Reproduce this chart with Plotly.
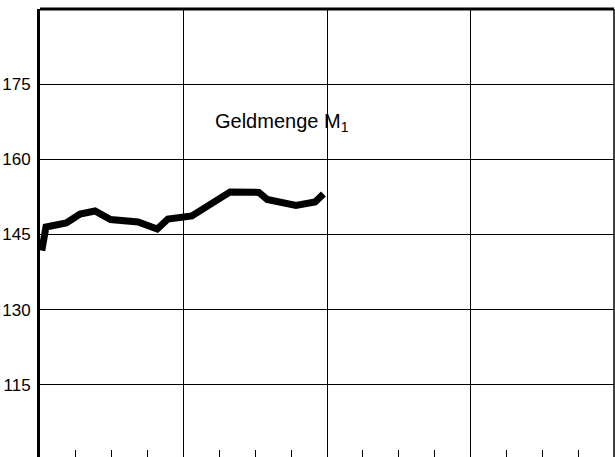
import plotly.graph_objects as go

# Data (x in months from start of axis, y = index value)
months = [0.15, 0.5, 2.2, 3.35, 4.6, 5.9, 8.2, 9.8, 10.7, 12.7, 15.9, 18.3, 19.0, 21.4, 23.0, 23.7]
values = [141.8, 146.5, 147.3, 149.1, 149.7, 148.0, 147.5, 146.1, 148.1, 148.7, 153.5, 153.4, 152.0, 150.8, 151.5, 153.1]
y_ticks = [115, 130, 145, 160, 175]
label_text = "Geldmenge M<sub>1</sub>"

fig = go.Figure()
fig.add_trace(go.Scatter(
    x=months, y=values, mode="lines",
    line=dict(color="black", width=7, shape="linear"),
    hoverinfo="skip", showlegend=False,
))

fig.add_annotation(
    x=14.5, y=167.4, text=label_text, showarrow=False,
    xanchor="left", yanchor="middle",
    font=dict(family="Liberation Sans, Arial, sans-serif", size=20, color="black"),
)

# border top and right
fig.add_shape(type="line", xref="paper", yref="paper", x0=0, x1=1, y0=1, y1=1,
              line=dict(color="black", width=3))
fig.add_shape(type="line", xref="paper", yref="paper", x0=1, x1=1, y0=0, y1=1,
              line=dict(color="black", width=1.5))

fig.update_layout(
    width=615, height=457,
    margin=dict(l=40, r=1, t=9, b=0),
    paper_bgcolor="white", plot_bgcolor="white",
    showlegend=False,
    xaxis=dict(
        range=[0, 48], tickmode="linear", tick0=0, dtick=12,
        showgrid=True, gridcolor="black", gridwidth=1,
        showticklabels=False, ticks="", zeroline=False, showline=False,
        minor=dict(tickmode="linear", tick0=0, dtick=3, ticks="inside",
                   ticklen=7, tickcolor="black", tickwidth=1, showgrid=False),
    ),
    yaxis=dict(
        range=[100.6, 190], tickmode="array", tickvals=y_ticks,
        ticktext=[str(v) for v in y_ticks],
        showgrid=True, gridcolor="black", gridwidth=1,
        zeroline=False, showline=True, linecolor="black", linewidth=3,
        ticks="", ticklabelstandoff=3,
        tickfont=dict(family="Liberation Sans, Arial, sans-serif", size=17, color="black"),
    ),
)

fig.write_html(
    "out.html",
    config={"displayModeBar": False},
    post_script="document.body.style.margin='0';document.body.style.padding='0';document.body.style.overflow='hidden';",
)
